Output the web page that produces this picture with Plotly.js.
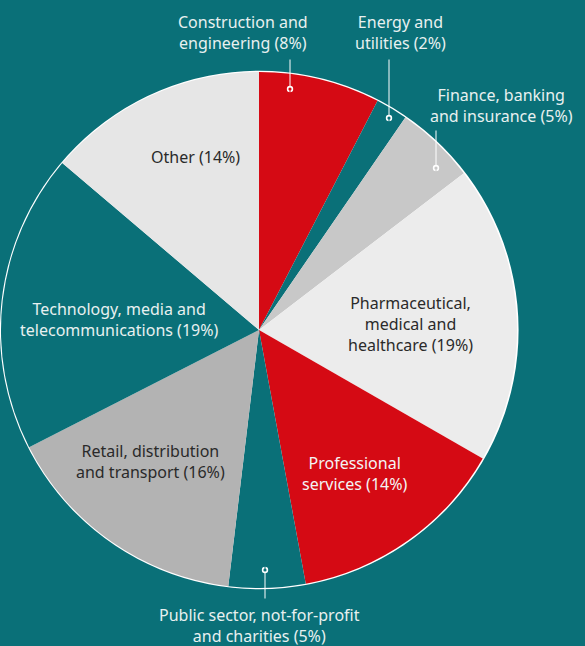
<!DOCTYPE html>
<html><head><meta charset="utf-8">
<script src="https://cdn.plot.ly/plotly-3.0.1.min.js"></script>
<style>html,body{margin:0;padding:0;background:#0a7078;}</style>
</head><body><div id="chart" style="width:585px;height:646px;"></div>
<script>
const sectors = ["Construction and engineering","Energy and utilities","Finance, banking and insurance","Pharmaceutical, medical and healthcare","Professional services","Public sector, not-for-profit and charities","Retail, distribution and transport","Technology, media and telecommunications","Other"];
const shares = [7.6, 2.0, 5.0, 18.7, 13.8, 4.8, 15.6, 18.7, 13.8];
const labelText = ["Construction and<br>engineering (8%)","Energy and<br>utilities (2%)","Finance, banking<br>and insurance (5%)","Pharmaceutical,<br>medical and<br>healthcare (19%)","Professional<br>services (14%)","Public sector, not-for-profit<br>and charities (5%)","Retail, distribution<br>and transport (16%)","Technology, media and<br>telecommunications (19%)","Other (14%)"];
const colors = ["#d50a14","#0a7078","#c8c8c8","#ececec","#d50a14","#0a7078","#b3b3b3","#0a7078","#e6e6e6"];

const W=585,H=646, cx=259, cy=330, r=258;
const px = x=>x/W, py = y=>1-y/H;

const place = [
  {x:243,y:32,c:"#e8f0f0",dot:[290,89],tail:[290,58]},
  {x:400,y:32,c:"#e8f0f0",dot:[389,118],tail:[389,58]},
  {x:501,y:105,c:"#e8f0f0",dot:[436,168],tail:[436,129]},
  {x:411,y:324,c:"#2a2a2a"},
  {x:354,y:473,c:"#f4f4f4"},
  {x:259,y:625,c:"#e8f0f0",dot:[265,570],tail:[265,600]},
  {x:150,y:461,c:"#2a2a2a"},
  {x:119,y:320,c:"#e8f0f0"},
  {x:195,y:157,c:"#2a2a2a"}
];

const annotations=[];
place.forEach((p,i)=>{
  annotations.push({xref:"paper",yref:"paper",x:px(p.x),y:py(p.y),text:labelText[i],showarrow:false,
    xanchor:"center",yanchor:"middle",align:"center",font:{family:"Noto Sans",size:16,color:p.c}});
  if(p.dot){
    annotations.push({xref:"paper",yref:"paper",x:px(p.dot[0]),y:py(p.dot[1]),text:"",showarrow:true,
      axref:"pixel",ayref:"pixel",ax:p.tail[0]-p.dot[0],ay:p.tail[1]-p.dot[1],
      arrowhead:6,arrowsize:1.6,arrowwidth:1,arrowcolor:"#ffffff",standoff:0,startstandoff:0});
    annotations.push({xref:"paper",yref:"paper",x:px(p.dot[0]),y:py(p.dot[1]),text:"",showarrow:true,
      axref:"pixel",ayref:"pixel",ax:0,ay:(p.tail[1]<p.dot[1]?6:-6),
      arrowhead:6,arrowsize:0.8,arrowwidth:1,arrowcolor:colors[i],standoff:0,startstandoff:0});
  }
});

const outline={type:"pie",values:[1],marker:{colors:["#ffffff"],line:{width:0}},textinfo:"none",hoverinfo:"skip",sort:false,showlegend:false,
  domain:{x:[px(cx-r-1.5),px(cx+r+1.5)],y:[py(cy+r+1.5),py(cy-r-1.5)]}};
const pie={type:"pie",labels:sectors,values:shares,sort:false,direction:"clockwise",rotation:0,
  marker:{colors:colors,line:{width:0}},textinfo:"none",hoverinfo:"label+percent",showlegend:false,
  domain:{x:[px(cx-r),px(cx+r)],y:[py(cy+r),py(cy-r)]}};

Plotly.newPlot("chart",[outline,pie],{width:W,height:H,margin:{l:0,r:0,t:0,b:0},
  paper_bgcolor:"#0a7078",plot_bgcolor:"#0a7078",showlegend:false,annotations:annotations},{displayModeBar:false,staticPlot:true});
</script></body></html>
